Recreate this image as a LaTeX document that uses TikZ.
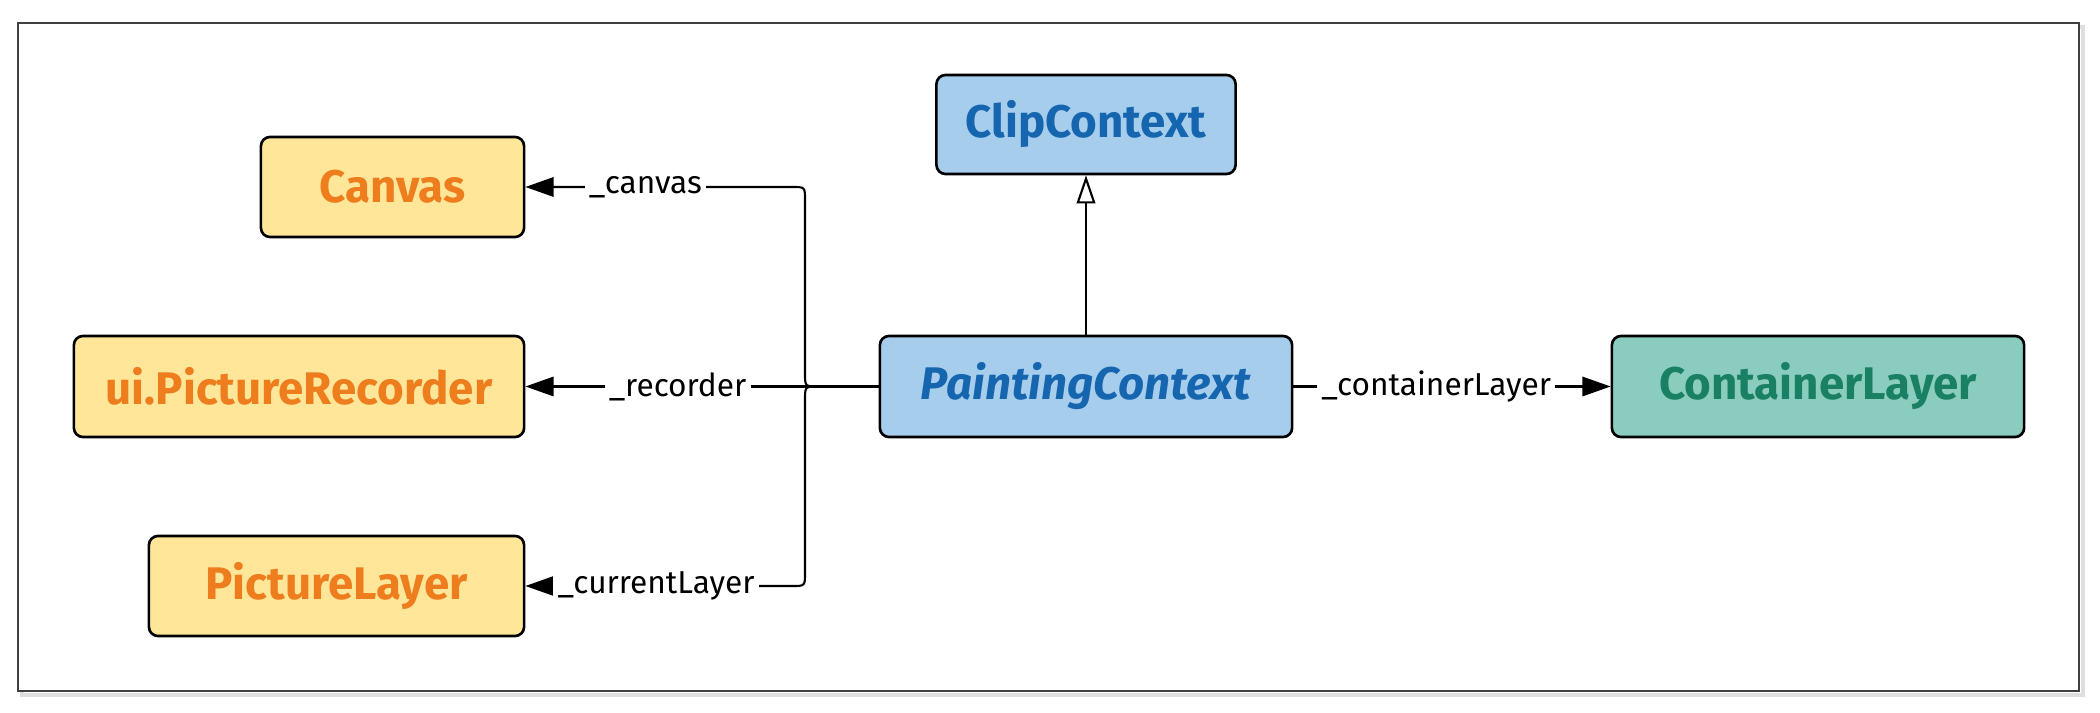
\documentclass[tikz,border=0pt]{standalone}
\usepackage{fontspec}
\setmainfont{Fira Sans}
\usetikzlibrary{arrows.meta}
\definecolor{yfill}{HTML}{FFE699}
\definecolor{ytext}{HTML}{EE7D1E}
\definecolor{bfill}{HTML}{A6CDEC}
\definecolor{btext}{HTML}{1565AF}
\definecolor{gfill}{HTML}{8ACDBF}
\definecolor{gtext}{HTML}{1A8063}
\begin{document}
\begin{tikzpicture}[x=0.01cm, y=-0.01cm,
  box/.style={draw=black, line width=0.75pt, rounded corners=2.6pt, inner sep=0pt, font=\bfseries\fontsize{13}{16}\selectfont},
  ybox/.style={box, fill=yfill, text=ytext},
  bbox/.style={box, fill=bfill, text=btext},
  gbox/.style={box, fill=gfill, text=gtext},
  lbl/.style={fill=white, inner sep=1.2pt, font=\fontsize{9}{11}\selectfont, text=black},
  con/.style={draw=black, line width=0.6pt},
  head/.style={-{Triangle[length=8pt,width=5.5pt]}},
  openhead/.style={-{Triangle[open,length=8pt,width=5.3pt,fill=white,line width=0.6pt]}},
]
\useasboundingbox (0,0) rectangle (2100,713);
\draw[gray!25, line width=1.4pt] (22,27) rectangle (2083,695);
\draw[black!75, line width=0.7pt, fill=white] (18,23) rectangle (2079,691);

\node[ybox, minimum width=2.63cm, minimum height=1.00cm] (canvas) at (392.5,187) {Canvas};
\node[ybox, minimum width=4.50cm, minimum height=1.01cm] (rec) at (299,386.5) {ui.PictureRecorder};
\node[ybox, minimum width=3.75cm, minimum height=1.00cm] (pl) at (336.5,586) {PictureLayer};
\node[bbox, minimum width=2.99cm, minimum height=0.99cm] (clip) at (1086,124.5) {ClipContext};
\node[bbox, minimum width=4.12cm, minimum height=1.01cm, font=\bfseries\itshape\fontsize{13}{16}\selectfont] (pc) at (1086,386.5) {PaintingContext};
\node[gbox, minimum width=4.12cm, minimum height=1.01cm] (cl) at (1818,386.5) {ContainerLayer};

\coordinate (j) at (818,386.5);
\draw[con] (pc.west) -- (j);
\draw[con, head] (j) .. controls (805,386.5) .. (805,373) -- (805,200)
  .. controls (805,187) .. (792,187) -- node[lbl, pos=0.55]{\_canvas} (canvas.east);
\draw[con, head] (j) -- node[lbl, pos=0.48]{\_recorder} (rec.east);
\draw[con, head] (j) .. controls (805,386.5) .. (805,400) -- (805,573)
  .. controls (805,586) .. (792,586) -- node[lbl, pos=0.51]{\_currentLayer} (pl.east);
\draw[con, openhead] (pc.north) -- (clip.south);
\draw[con, head] (pc.east) -- node[lbl, pos=0.45]{\_containerLayer} (cl.west);
\end{tikzpicture}
\end{document}
